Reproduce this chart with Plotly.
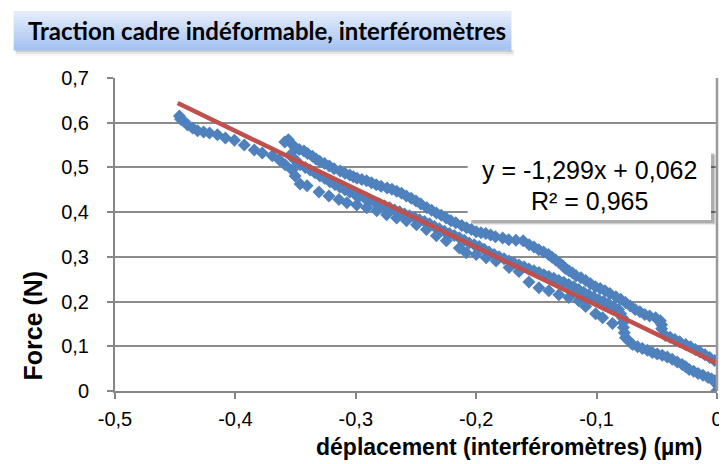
import plotly.graph_objects as go

# ---------------- data ----------------
# lower / loading path (upper-left start, then lower dotted band)
lower_x = [-0.4465, -0.4455, -0.4430, -0.4397, -0.4355, -0.4314, -0.4264, -0.4215, -0.4149, -0.4083,
           -0.4008, -0.3926, -0.3843, -0.3777, -0.3694, -0.3636, -0.3587, -0.3529, -0.3504, -0.3463,
           -0.3405, -0.3306, -0.3223, -0.3140, -0.3074, -0.2992, -0.2909, -0.2826, -0.2744, -0.2661,
           -0.2579, -0.2496, -0.2413, -0.2331, -0.2248, -0.2140, -0.2083, -0.2000, -0.1917, -0.1835,
           -0.1727, -0.1645, -0.1562, -0.1479, -0.1397, -0.1314, -0.1231, -0.1149, -0.1091, -0.1008,
           -0.0950, -0.0868]
lower_y = [0.615, 0.608, 0.604, 0.595, 0.588, 0.582, 0.579, 0.577, 0.573, 0.566,
           0.561, 0.550, 0.539, 0.532, 0.526, 0.517, 0.506, 0.494, 0.481, 0.463,
           0.459, 0.445, 0.436, 0.428, 0.421, 0.416, 0.410, 0.403, 0.394, 0.387,
           0.381, 0.372, 0.361, 0.347, 0.336, 0.320, 0.309, 0.305, 0.298, 0.291,
           0.276, 0.267, 0.244, 0.231, 0.224, 0.215, 0.209, 0.202, 0.189, 0.173,
           0.164, 0.151]

# upper band (starts at the hump near -0.36)
upper_x = [-0.359, -0.356, -0.353, -0.350, -0.347, -0.343, -0.340, -0.336, -0.333, -0.330,
           -0.326, -0.322, -0.318, -0.313, -0.309, -0.305, -0.302, -0.299, -0.295, -0.291,
           -0.287, -0.283, -0.279, -0.274, -0.270, -0.266, -0.262, -0.258, -0.254, -0.250,
           -0.246, -0.241, -0.237, -0.233, -0.229, -0.225, -0.221, -0.217, -0.212, -0.208,
           -0.204, -0.200, -0.196, -0.192, -0.188, -0.184, -0.178, -0.173, -0.167, -0.161,
           -0.156, -0.152, -0.148, -0.144, -0.140, -0.137, -0.134, -0.131, -0.128, -0.126,
           -0.123, -0.120, -0.117, -0.113, -0.109, -0.105, -0.101, -0.097, -0.093, -0.089,
           -0.084, -0.080, -0.076, -0.072, -0.068, -0.064, -0.060, -0.056, -0.051, -0.047,
           -0.046, -0.046, -0.043, -0.039, -0.035, -0.031, -0.026, -0.022, -0.018, -0.014,
           -0.010, -0.006, -0.002]
upper_y = [0.557, 0.562, 0.552, 0.543, 0.540, 0.537, 0.531, 0.525, 0.519, 0.514,
           0.509, 0.503, 0.497, 0.492, 0.487, 0.483, 0.479, 0.476, 0.473, 0.470,
           0.466, 0.461, 0.458, 0.454, 0.451, 0.447, 0.442, 0.436, 0.431, 0.425,
           0.418, 0.410, 0.404, 0.398, 0.393, 0.387, 0.381, 0.376, 0.370, 0.365,
           0.361, 0.356, 0.354, 0.352, 0.349, 0.345, 0.342, 0.338, 0.337, 0.336,
           0.327, 0.322, 0.316, 0.311, 0.305, 0.299, 0.293, 0.287, 0.280, 0.274,
           0.269, 0.264, 0.258, 0.253, 0.247, 0.240, 0.233, 0.229, 0.224, 0.218,
           0.211, 0.205, 0.198, 0.190, 0.182, 0.177, 0.171, 0.168, 0.164, 0.157,
           0.148, 0.139, 0.124, 0.120, 0.115, 0.110, 0.104, 0.099, 0.093, 0.087,
           0.081, 0.075, 0.068]

# middle band (runs along the trend line, then the lower loop to the origin)
middle_x = [-0.3545, -0.3525, -0.3504, -0.3483, -0.3463, -0.3420, -0.3380, -0.3340, -0.3298, -0.3257,
            -0.3215, -0.3173, -0.3132, -0.3090, -0.3050, -0.3008, -0.2967, -0.2925, -0.2884, -0.2843,
            -0.2802, -0.2760, -0.2719, -0.2678, -0.2636, -0.2595, -0.2554, -0.2512, -0.2471, -0.2430,
            -0.2388, -0.2347, -0.2306, -0.2264, -0.2223, -0.2182, -0.2140, -0.2099, -0.2058, -0.2016,
            -0.1975, -0.1934, -0.1893, -0.1851, -0.1810, -0.1769, -0.1727, -0.1686, -0.1645, -0.1603,
            -0.1562, -0.1521, -0.1479, -0.1438, -0.1397, -0.1356, -0.1314, -0.1273, -0.1231, -0.1190,
            -0.1149, -0.1107, -0.1066, -0.1025, -0.0983, -0.0942, -0.0901, -0.0860, -0.0818, -0.0800,
            -0.0785, -0.0780, -0.0777, -0.0770, -0.0760, -0.0730, -0.0702, -0.0660, -0.0620, -0.0578,
            -0.0537, -0.0496, -0.0455, -0.0413, -0.0372, -0.0330, -0.0289, -0.0260, -0.0231, -0.0194,
            -0.0157, -0.0116, -0.0074, -0.0045, -0.0017, 0.0008, 0.0000]
middle_y = [0.527, 0.522, 0.517, 0.511, 0.506, 0.500, 0.494, 0.488, 0.481, 0.475,
            0.468, 0.462, 0.456, 0.450, 0.445, 0.440, 0.436, 0.431, 0.427, 0.422,
            0.418, 0.414, 0.410, 0.405, 0.401, 0.396, 0.392, 0.388, 0.383, 0.379,
            0.374, 0.368, 0.363, 0.357, 0.352, 0.348, 0.343, 0.337, 0.331, 0.327,
            0.323, 0.317, 0.311, 0.305, 0.300, 0.296, 0.291, 0.286, 0.282, 0.278,
            0.273, 0.269, 0.265, 0.260, 0.256, 0.252, 0.247, 0.243, 0.238, 0.233,
            0.227, 0.221, 0.215, 0.210, 0.204, 0.200, 0.195, 0.189, 0.182, 0.173,
            0.164, 0.153, 0.142, 0.130, 0.119, 0.111, 0.104, 0.099, 0.095, 0.091,
            0.086, 0.083, 0.080, 0.076, 0.071, 0.065, 0.059, 0.054, 0.048, 0.044,
            0.039, 0.035, 0.030, 0.027, 0.023, 0.012, 0.001]

# linear trend line (as displayed)
trend_slope = -1.299
trend_intercept = 0.062
trend_r2 = 0.965
trend_x = [-0.448, 0.0]

x_tickvals = [-0.5, -0.4, -0.3, -0.2, -0.1, 0.0]
x_ticktext = ["-0,5", "-0,4", "-0,3", "-0,2", "-0,1", "0"]
y_tickvals = [0.0, 0.1, 0.2, 0.3, 0.4, 0.5, 0.6, 0.7]
y_ticktext = ["0", "0,1", "0,2", "0,3", "0,4", "0,5", "0,6", "0,7"]

title_text = "Traction cadre indéformable, interféromètres"
x_title = "déplacement (interféromètres) (µm)"
y_title = "Force (N)"

# ---------------- figure ----------------
W, H = 727, 464
L, R, T, B = 107, 14, 70, 81
PW, PH = W - L - R, H - T - B


def px(x):
    return (x - L) / PW


def py(y):
    return (H - B - y) / PH


AX = "Liberation Sans, Arial, sans-serif"
BLUE = "#4F81BD"

fig = go.Figure()
fig.add_trace(go.Scatter(
    x=lower_x + upper_x + middle_x,
    y=lower_y + upper_y + middle_y,
    mode="markers",
    marker=dict(symbol="diamond", size=10, color=BLUE, line=dict(width=0)),
    hoverinfo="skip",
))
fig.add_trace(go.Scatter(
    x=trend_x,
    y=[trend_slope * v + trend_intercept for v in trend_x],
    mode="lines",
    line=dict(color="#C0504D", width=4.5),
    hoverinfo="skip",
))

shapes = []
# right border of plot area
shapes.append(dict(type="line", xref="paper", yref="paper", x0=1, x1=1, y0=0, y1=1,
                   line=dict(color="#9A9A9A", width=2.5)))

# title box with vertical gradient + shadow
tb_x0, tb_x1, tb_y0, tb_y1 = 5, 506, 3, 42
for i, a in enumerate([0.10, 0.07, 0.04]):
    shapes.append(dict(type="rect", xref="paper", yref="paper",
                       x0=px(tb_x0 + 2), x1=px(tb_x1 + 1 + i), y0=py(tb_y1 + 2 + 2 * i), y1=py(tb_y1),
                       fillcolor=f"rgba(0,0,0,{a})", line=dict(width=0), layer="above"))
top_c = (228, 236, 252)
bot_c = (166, 195, 242)
n = 13
for i in range(n):
    f = i / (n - 1)
    c = tuple(int(round(top_c[k] + (bot_c[k] - top_c[k]) * f)) for k in range(3))
    y0 = tb_y0 + (tb_y1 - tb_y0) * i / n
    y1 = tb_y0 + (tb_y1 - tb_y0) * (i + 1) / n
    shapes.append(dict(type="rect", xref="paper", yref="paper",
                       x0=px(tb_x0), x1=px(tb_x1), y0=py(y1 + 0.5), y1=py(y0),
                       fillcolor="rgb(%d,%d,%d)" % c, line=dict(width=0), layer="above"))

# equation box with shadow
eb_x0, eb_x1, eb_y0, eb_y1 = 462, 707, 142, 212
for off, a in [(5, 0.08), (4, 0.12), (3, 0.16)]:
    shapes.append(dict(type="rect", xref="paper", yref="paper",
                       x0=px(eb_x0 + off), x1=px(eb_x1 + off), y0=py(eb_y1 + off), y1=py(eb_y0 + off),
                       fillcolor=f"rgba(0,0,0,{a})", line=dict(width=0), layer="above"))
shapes.append(dict(type="rect", xref="paper", yref="paper",
                   x0=px(eb_x0), x1=px(eb_x1), y0=py(eb_y1), y1=py(eb_y0),
                   fillcolor="white", line=dict(width=0), layer="above"))

eq_text = "y = %sx + %s" % (("%.3f" % trend_slope).replace(".", ","),
                            ("%.3f" % trend_intercept).replace(".", ","))
r2_text = "R² = " + ("%.3f" % trend_r2).replace(".", ",")

annotations = [
    dict(text="<b>" + title_text + "</b>", xref="paper", yref="paper", x=px(17), y=py(23),
         xanchor="left", yanchor="middle", showarrow=False,
         font=dict(family="Lato, Carlito, Calibri, sans-serif", size=24, color="black")),
    dict(text=eq_text, xref="paper", yref="paper", x=px((eb_x0 + eb_x1) / 2), y=py(162),
         xanchor="center", yanchor="middle", showarrow=False,
         font=dict(family=AX, size=25, color="black")),
    dict(text=r2_text, xref="paper", yref="paper", x=px((eb_x0 + eb_x1) / 2), y=py(193),
         xanchor="center", yanchor="middle", showarrow=False,
         font=dict(family=AX, size=25, color="black")),
    dict(text="<b>" + y_title + "</b>", xref="paper", yref="paper", x=px(24), y=py(318),
         xanchor="center", yanchor="middle", textangle=-90, showarrow=False,
         font=dict(family=AX, size=25, color="black")),
    dict(text="<b>" + x_title + "</b>", xref="paper", yref="paper", x=px(504), y=py(439),
         xanchor="center", yanchor="middle", showarrow=False,
         font=dict(family=AX, size=23, color="black")),
]

fig.update_layout(
    width=W, height=H, autosize=False,
    margin=dict(l=L, r=R, t=T, b=B, pad=0),
    paper_bgcolor="white", plot_bgcolor="white",
    showlegend=False,
    shapes=shapes, annotations=annotations,
    xaxis=dict(range=[-0.5, 0.0], tickvals=x_tickvals, ticktext=x_ticktext,
               showgrid=False, zeroline=False, showline=True, linecolor="#868686", linewidth=2,
               ticks="outside", ticklen=6, tickwidth=1.5, tickcolor="#868686",
               ticklabelstandoff=3,
               tickfont=dict(family=AX, size=20, color="black")),
    yaxis=dict(range=[0, 0.7], tickvals=y_tickvals, ticktext=y_ticktext,
               showgrid=True, gridcolor="#8C8C8C", gridwidth=1.5,
               zeroline=False, showline=True, linecolor="#868686", linewidth=2,
               ticks="outside", ticklen=6, tickwidth=1.5, tickcolor="#868686",
               ticklabelstandoff=14,
               tickfont=dict(family=AX, size=20, color="black")),
)

fig.write_html("out.html")
